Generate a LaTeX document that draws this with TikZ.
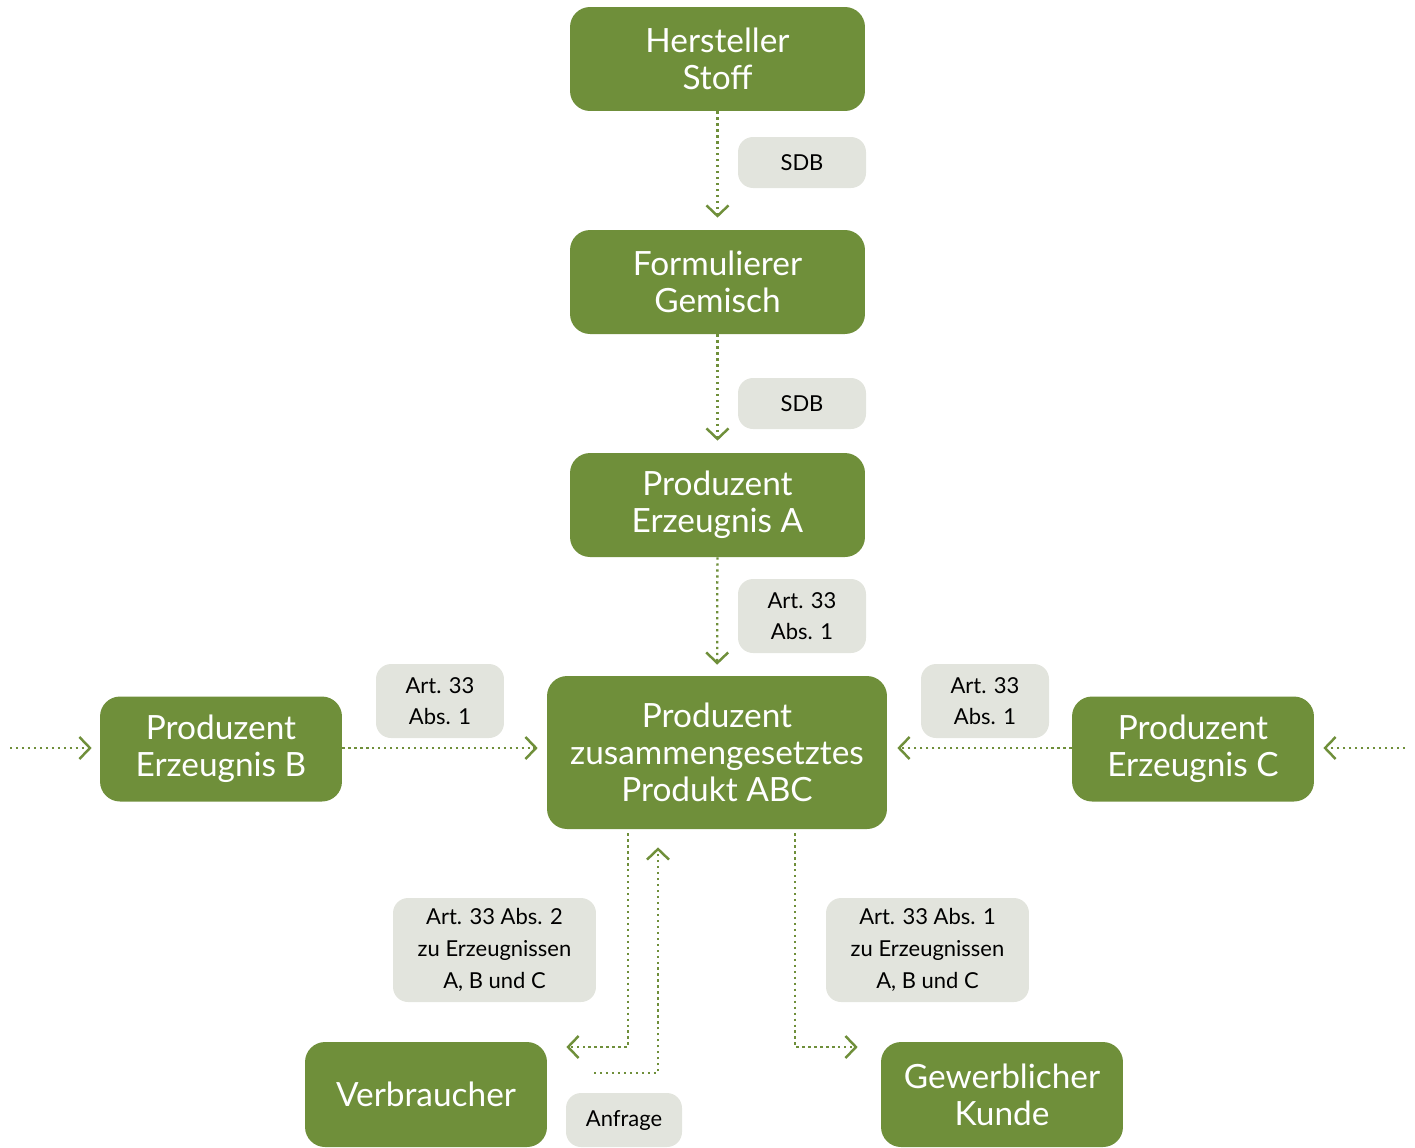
\documentclass[tikz,border=0pt]{standalone}
\usepackage{fontspec}
\setmainfont{Lato}
\usetikzlibrary{arrows.meta}

\definecolor{gruen}{HTML}{6F8F3A}
\definecolor{grau}{HTML}{E2E4DD}

\tikzset{
  akteur/.style={fill=gruen, text=white, rounded corners=0.4cm, align=center,
    minimum width=5.9cm, minimum height=2.08cm, inner sep=0pt,
    font=\fontsize{19}{21}\selectfont},
  hinweis/.style={fill=grau, text=black, rounded corners=0.3cm, align=center,
    minimum width=2.56cm, inner sep=0pt,
    font=\fontsize{12.5}{18}\selectfont},
  fluss/.style={draw=gruen, line width=1.3pt, dash pattern=on 1.3pt off 2.1pt,
    -{Straight Barb[length=6pt, width=12.5pt, line width=1.4pt]}}
}

\begin{document}
\begin{tikzpicture}[x=0.02cm, y=-0.02cm]
\useasboundingbox (0,0) rectangle (1415,1147);

% Akteure
\node[akteur] (herst) at (717.5,59) {Hersteller\\Stoff};
\node[akteur] (formul) at (717.5,282) {Formulierer\\Gemisch};
\node[akteur] (prodA) at (717.5,505) {Produzent\\Erzeugnis A};
\node[akteur, minimum width=6.8cm, minimum height=3.06cm] (abc) at (717,752.5) {Produzent\\zusammengesetztes\\Produkt ABC};
\node[akteur, minimum width=4.84cm, minimum height=2.1cm] (prodB) at (221,749) {Produzent\\Erzeugnis B};
\node[akteur, minimum width=4.84cm, minimum height=2.1cm] (prodC) at (1193,749) {Produzent\\Erzeugnis C};
\node[akteur, minimum width=4.84cm, minimum height=2.1cm] (verbr) at (426,1094.5) {Verbraucher};
\node[akteur, minimum width=4.84cm, minimum height=2.1cm] (kunde) at (1002,1094.5) {Gewerblicher\\Kunde};

% Hinweise
\node[hinweis, minimum height=1.02cm] (sdbA) at (802,162.5) {SDB};
\node[hinweis, minimum height=1.02cm] (sdbB) at (802,403.5) {SDB};
\node[hinweis, minimum height=1.48cm] (artA) at (802,616) {Art. 33\\Abs. 1};
\node[hinweis, minimum height=1.48cm] (artB) at (440,701) {Art. 33\\Abs. 1};
\node[hinweis, minimum height=1.48cm] (artC) at (985,701) {Art. 33\\Abs. 1};
\node[hinweis, minimum width=4.06cm, minimum height=2.08cm] (artV) at (494.5,950) {Art. 33 Abs. 2\\zu Erzeugnissen\\A, B und C};
\node[hinweis, minimum width=4.06cm, minimum height=2.08cm] (artK) at (927.5,950) {Art. 33 Abs. 1\\zu Erzeugnissen\\A, B und C};
\node[hinweis, minimum width=2.32cm, minimum height=1.08cm] (anfrage) at (624,1120) {Anfrage};

% Knickpunkte
\coordinate (linksB) at (10,748);
\coordinate (rechtsC) at (1405,748);
\coordinate (knickV) at (628,1047);
\coordinate (knickK) at (795,1047);
\coordinate (anfStart) at (594,1073);
\coordinate (knickA) at (658,1073);

% Fluss
\draw[fluss, shorten >=0.24cm] (herst) -- (formul);
\draw[fluss, shorten >=0.24cm] (formul) -- (prodA);
\draw[fluss, shorten >=0.22cm] (prodA) -- (abc);
\draw[fluss, shorten >=0.16cm] (linksB) -- (prodB.west |- linksB);
\draw[fluss, shorten >=0.18cm] (prodB.east |- linksB) -- (abc.west |- linksB);
\draw[fluss, shorten >=0.18cm] (rechtsC) -- (prodC.east |- rechtsC);
\draw[fluss, shorten >=0.2cm] (prodC.west |- rechtsC) -- (abc.east |- rechtsC);
\draw[fluss, shorten <=0.08cm, shorten >=0.38cm] (abc.south -| knickV) -- (knickV) -- (knickV -| verbr.east);
\draw[fluss, shorten <=0.08cm, shorten >=0.46cm] (abc.south -| knickK) -- (knickK) -- (knickK -| kunde.west);
\draw[fluss, shorten >=0.36cm] (anfStart) -- (knickA) -- (knickA |- abc.south);
\end{tikzpicture}
\end{document}
